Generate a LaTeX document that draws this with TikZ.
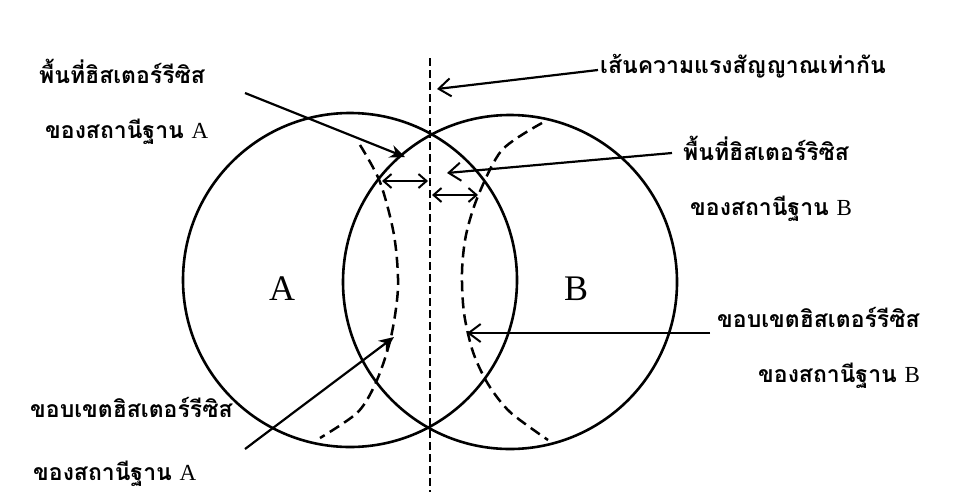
\documentclass[tikz,border=0pt]{standalone}
\usepackage{fontspec}
\setmainfont{Liberation Serif}
\newfontfamily\thaifont[Script=Thai]{Loma}
\usetikzlibrary{arrows.meta}

\begin{document}
\begin{tikzpicture}[x=1pt, y=-1pt,
  cell/.style={circle, draw, line width=2.6pt, minimum size=334pt, inner sep=0pt},
  boundary/.style={line width=2.5pt, dash pattern=on 11pt off 6pt},
  equal/.style={line width=2pt, dash pattern=on 8pt off 4pt},
  caption/.style={anchor=base west, inner sep=0pt, font=\fontsize{23}{27}\selectfont\bfseries},
  pointer/.style={line width=2.2pt, -{Straight Barb[length=12pt,width=18pt,line width=2pt]}},
  solidptr/.style={line width=2.2pt, -{Stealth[length=15pt,width=13pt]}},
  gap/.style={line width=2.2pt, {Straight Barb[length=8pt,width=14pt,line width=2pt]}-{Straight Barb[length=8pt,width=14pt,line width=2pt]}}]
  \useasboundingbox (0,0) rectangle (957,498);
  % coverage of the two base stations
  \node[cell] (cellA) at (350,280) {};
  \node[cell] (cellB) at (510,282) {};
  \node[font=\fontsize{36}{40}\selectfont] (nameA) at (282,289) {A};
  \node[font=\fontsize{36}{40}\selectfont] (nameB) at (576,289) {B};
  % equal signal strength line
  \coordinate (eqtop) at (430,58);
  \coordinate (eqbot) at (430,492);
  \draw[equal] (eqtop) -- (eqbot);
  % hysteresis boundaries
  \draw[boundary] plot[smooth] coordinates {(360,145) (380,182) (394,235) (398,287) (391,337) (377,380) (358,412) (320,438)};
  \draw[boundary] plot[smooth] coordinates {(542,123) (502,150) (478,196) (466,235) (462,272) (464,313) (473,352) (488,384) (510,412) (548,440)};
  % hysteresis widths
  \coordinate (gapA1) at (382,181);
  \coordinate (gapA2) at (428,181);
  \coordinate (gapB1) at (432,195);
  \coordinate (gapB2) at (478,195);
  \draw[gap] (gapA1) -- (gapA2);
  \draw[gap] (gapB1) -- (gapB2);
  % labels
  \node[caption] (areaA) at (39,83) {\thaifont พื้นที่ฮิสเตอร์รีซิส};
  \node[caption] (areaA2) at (45,138) {\thaifont ของสถานีฐาน \rmfamily\mdseries A};
  \node[caption] (eqline) at (600,73) {\thaifont เส้นความแรงสัญญาณเท่ากัน};
  \node[caption] (areaB) at (683,160) {\thaifont พื้นที่ฮิสเตอร์ริซิส};
  \node[caption] (areaB2) at (690,215) {\thaifont ของสถานีฐาน \rmfamily\mdseries B};
  \node[caption] (edgeB) at (717,327) {\thaifont ขอบเขตฮิสเตอร์รีซิส};
  \node[caption] (edgeB2) at (758,382) {\thaifont ของสถานีฐาน \rmfamily\mdseries B};
  \node[caption] (edgeA) at (30,417) {\thaifont ขอบเขตฮิสเตอร์รีซิส};
  \node[caption] (edgeA2) at (33,480) {\thaifont ของสถานีฐาน \rmfamily\mdseries A};
  % pointers
  \coordinate (fromAreaA) at (245,93);
  \coordinate (toAreaA) at (405,157);
  \coordinate (fromEq) at (598,70);
  \coordinate (toEq) at (437,89);
  \coordinate (fromAreaB) at (672,153);
  \coordinate (toAreaB) at (447,173);
  \coordinate (fromEdgeB) at (710,333);
  \coordinate (toEdgeB) at (467,333);
  \coordinate (fromEdgeA) at (245,449);
  \coordinate (toEdgeA) at (394,337);
  \draw[solidptr] (fromAreaA) -- (toAreaA);
  \draw[pointer] (fromEq) -- (toEq);
  \draw[pointer] (fromAreaB) -- (toAreaB);
  \draw[pointer] (fromEdgeB) -- (toEdgeB);
  \draw[solidptr] (fromEdgeA) -- (toEdgeA);
\end{tikzpicture}
\end{document}
